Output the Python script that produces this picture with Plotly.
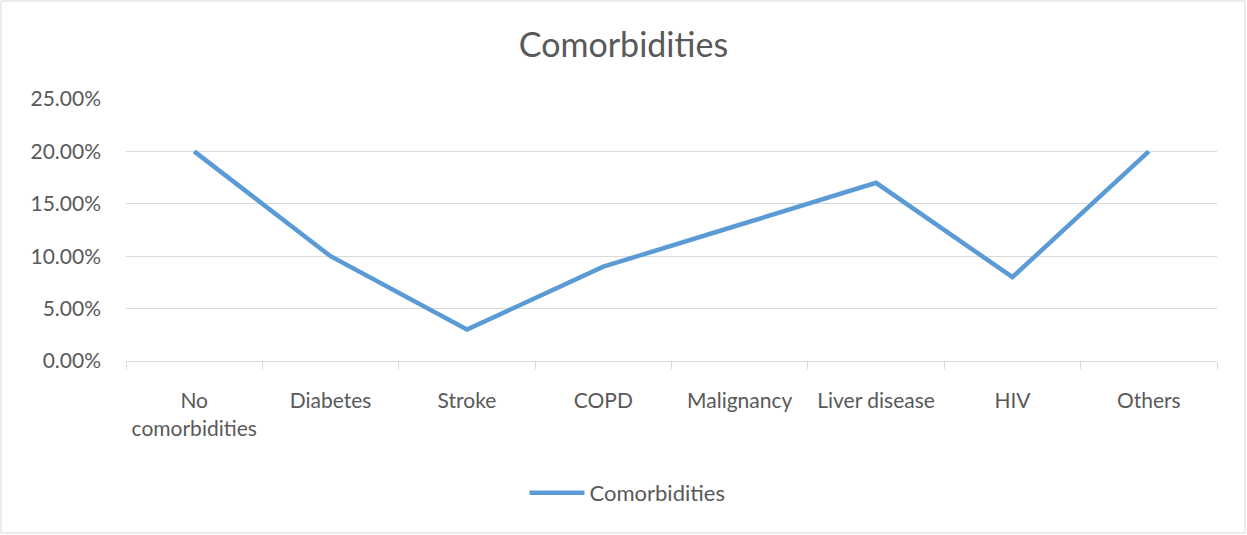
import plotly.graph_objects as go

categories = ["No<br>comorbidities", "Diabetes", "Stroke", "COPD", "Malignancy",
              "Liver disease", "HIV", "Others"]
values = [0.20, 0.10, 0.03, 0.09, 0.13, 0.17, 0.08, 0.20]
series_name = "Comorbidities"
title_text = "Comorbidities"

W, H = 1247, 535
ml, mr, mt, mb = 126, 30, 99, 174
pw, ph = W - ml - mr, H - mt - mb

fig = go.Figure()
fig.add_trace(go.Scatter(
    x=categories, y=values, mode="lines", name=series_name,
    line=dict(color="#5B9BD5", width=4.5),
))

FONT = "Lato, 'Open Sans', sans-serif"
fig.update_layout(
    width=W, height=H,
    margin=dict(l=ml, r=mr, t=mt, b=mb),
    paper_bgcolor="white", plot_bgcolor="white",
    font=dict(family=FONT, color="#595959", size=21),
    title=dict(text=title_text, x=0.5, xanchor="center", y=1 - 45 / H, yanchor="middle",
               font=dict(size=34, color="#595959", family=FONT)),
    showlegend=True,
    legend=dict(orientation="h", x=0.5 - 44 / pw, xanchor="center", y=-(493 - 361) / ph,
                yanchor="middle", font=dict(size=22, color="#595959"), itemwidth=55),
    xaxis=dict(
        type="category", range=[-0.5, 7.5],
        showgrid=False, showline=True, linecolor="#d9d9d9", linewidth=1,
        ticks="outside", tickson="boundaries", ticklen=7, tickcolor="#d9d9d9",
        ticklabelstandoff=21,
        tickfont=dict(size=21, color="#595959"),
    ),
    yaxis=dict(
        range=[0, 0.25], dtick=0.05, tickformat=".2%",
        showgrid=True, gridcolor="#d9d9d9", gridwidth=1,
        zeroline=False, showline=False, ticks="", ticklabelstandoff=24,
        tickfont=dict(size=21, color="#595959"),
    ),
)

fig.add_shape(type="rect", xref="paper", yref="paper",
              x0=(-ml + 1) / pw, x1=(pw + mr - 2) / pw,
              y0=(-mb + 2) / ph, y1=(ph + mt - 1) / ph,
              line=dict(color="#d9d9d9", width=1), fillcolor="rgba(0,0,0,0)", layer="below")

fig.write_html("out.html", config={"displayModeBar": False},
               post_script="document.body.style.margin='0';document.body.style.overflow='hidden';")
